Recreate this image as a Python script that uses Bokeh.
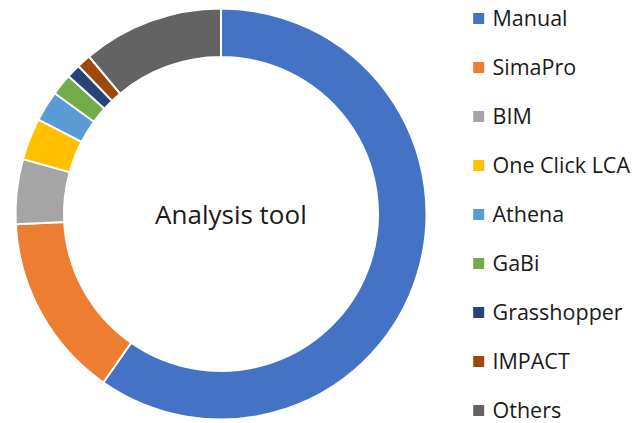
import numpy as np
from bokeh.plotting import figure
from bokeh.models import Range1d, ColumnDataSource
from bokeh.core.properties import value
from bokeh.embed import file_html
from bokeh.resources import INLINE

# ---- data ----
categories = ["Manual", "SimaPro", "BIM", "One Click LCA", "Athena",
              "GaBi", "Grasshopper", "IMPACT", "Others"]
shares = [59.7, 14.5, 5.1, 3.3, 2.4, 1.7, 1.1, 1.1, 11.1]
colors = ["#4472C4", "#ED7D31", "#A5A5A5", "#FFC000", "#5B9BD5",
          "#70AD47", "#264478", "#9E480E", "#636363"]
center_label = "Analysis tool"

W, H = 635, 423
p = figure(width=W, height=H, output_backend="svg", toolbar_location=None,
           x_range=Range1d(0, W), y_range=Range1d(0, H), min_border=0,
           outline_line_color=None)
p.axis.visible = False
p.grid.visible = False
p.background_fill_color = "white"
p.border_fill_color = "white"

# donut geometry (pixel units)
cx, cy = 220.5, 209.5
r_out, r_in = 205.5, 157.0

vals = np.array(shares, dtype=float)
frac = vals / vals.sum()
cum_end = np.cumsum(frac)
cum_start = cum_end - frac
start_angle = np.pi / 2 - cum_end * 2 * np.pi
end_angle = np.pi / 2 - cum_start * 2 * np.pi

src = ColumnDataSource(dict(cat=categories, color=colors,
                            start=start_angle, end=end_angle))
p.annular_wedge(x=cx, y=cy, inner_radius=r_in, outer_radius=r_out,
                start_angle="start", end_angle="end", direction="anticlock",
                fill_color="color", line_color="white", line_width=2,
                source=src)

p.text(x=[230.4], y=[209.5], text=[center_label], text_align="center",
       text_baseline="alphabetic", text_font=value("Open Sans"),
       text_font_size="26px", text_color="#1a1a1a")

# legend (manual)
n = len(categories)
step = 49.0
idx = np.arange(n)
leg = ColumnDataSource(dict(cat=categories, color=colors,
                            sy=405.0 - step * idx, ty=406.2 - step * idx))
p.rect(x=478.2, y="sy", width=11, height=11, width_units="screen",
       height_units="screen", fill_color="color", line_color=None, source=leg)
p.text(x=492, y="ty", text="cat", text_align="left", text_baseline="alphabetic",
       text_font=value("Open Sans"), text_font_size="21.5px",
       text_color="#1a1a1a", source=leg)

open("out.html", "w").write(file_html(p, INLINE))
